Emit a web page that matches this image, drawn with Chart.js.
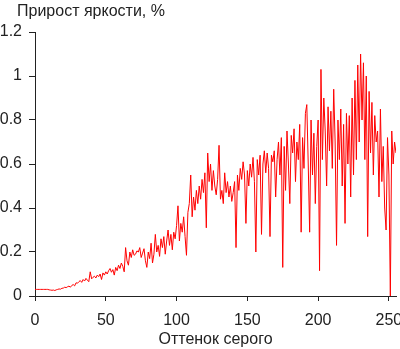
<!DOCTYPE html>
<html>
<head>
<meta charset="utf-8">
<script src="https://cdn.jsdelivr.net/npm/chart.js@4.4.1/dist/chart.umd.min.js"></script>
<style>
  html, body { margin: 0; padding: 0; background: #fff; }
  #wrap { width: 400px; height: 349px; }
</style>
</head>
<body>
<div id="wrap"><canvas id="gain"></canvas></div>
<script>
const chartTitle = 'Прирост яркости, %';
const xTitle = 'Оттенок серого';
const xTicks = [0, 50, 100, 150, 200, 250];
const yTicks = [0, 0.2, 0.4, 0.6, 0.8, 1, 1.2];

// brightness gain per grey level 0..255
const gain = [
  0.03,0.03,0.03,0.03,0.03,0.03,0.03,0.03,0.03,0.03,
  0.028,0.027,0.026,0.027,0.025,0.028,0.03,0.032,0.031,0.035,
  0.036,0.04,0.038,0.042,0.045,0.04,0.048,0.052,0.046,0.06,
  0.058,0.065,0.07,0.062,0.075,0.068,0.08,0.072,0.065,0.11,
  0.078,0.085,0.09,0.082,0.095,0.088,0.1,0.075,0.105,0.095,
  0.11,0.1,0.115,0.125,0.108,0.12,0.095,0.13,0.115,0.14,
  0.125,0.15,0.135,0.11,0.22,0.16,0.14,0.2,0.175,0.21,
  0.185,0.19,0.205,0.2,0.22,0.175,0.195,0.215,0.16,0.13,
  0.2,0.17,0.24,0.15,0.19,0.28,0.2,0.23,0.18,0.26,
  0.22,0.27,0.19,0.25,0.3,0.23,0.28,0.21,0.29,0.26,
  0.32,0.41,0.25,0.33,0.29,0.36,0.27,0.185,0.38,0.42,
  0.55,0.36,0.45,0.39,0.48,0.42,0.5,0.44,0.53,0.47,
  0.56,0.31,0.65,0.52,0.6,0.48,0.57,0.5,0.46,0.53,
  0.685,0.44,0.48,0.42,0.56,0.47,0.52,0.45,0.5,0.43,
  0.47,0.52,0.22,0.55,0.48,0.58,0.53,0.61,0.55,0.33,
  0.57,0.5,0.6,0.54,0.63,0.52,0.2,0.62,0.55,0.64,
  0.28,0.6,0.66,0.56,0.65,0.58,0.27,0.64,0.61,0.66,
  0.45,0.62,0.7,0.55,0.72,0.13,0.68,0.48,0.75,0.6,
  0.42,0.73,0.65,0.76,0.52,0.7,0.62,0.78,0.29,0.72,
  0.58,0.83,0.87,0.6,0.29,0.8,0.55,0.74,0.42,0.68,
  0.8,0.115,1.03,0.62,0.9,0.75,0.5,0.86,0.66,0.84,
  0.58,0.94,0.7,0.23,0.8,0.62,0.85,0.5,0.78,0.33,
  0.83,0.6,0.82,0.45,0.9,0.55,0.98,0.62,1.05,0.7,
  1.1,0.8,1.06,0.62,1.0,0.27,0.93,0.65,0.88,0.55,
  0.82,0.7,0.75,0.45,0.85,0.52,0.68,0.4,0.3,0.72,
  0.55,0.0,0.75,0.6,0.7,0.65
];

const font = { family: '"Liberation Sans", Arial, sans-serif', size: 16 };
const ink = '#222';

// title drawn in the top-left corner of the canvas
const cornerTitle = {
  id: 'cornerTitle',
  afterDraw(chart) {
    const c = chart.ctx;
    c.save();
    c.font = '16px "Liberation Sans", Arial, sans-serif';
    c.fillStyle = ink;
    c.textBaseline = 'middle';
    c.fillText(chartTitle, 17, 12);
    c.restore();
  }
};

new Chart(document.getElementById('gain'), {
  type: 'line',
  data: {
    datasets: [{
      data: gain.map((v, i) => ({ x: i, y: v })),
      borderColor: 'rgb(255,0,0)',
      borderWidth: 1,
      pointRadius: 0,
      tension: 0
    }]
  },
  options: {
    responsive: true,
    maintainAspectRatio: false,
    animation: false,
    layout: { padding: { top: 32, right: 4, left: 0, bottom: 0 } },
    plugins: { legend: { display: false }, tooltip: { enabled: false } },
    scales: {
      x: {
        type: 'linear',
        min: 0,
        max: 255,
        afterBuildTicks: s => { s.ticks = xTicks.map(v => ({ value: v })); },
        // fixed height, and let the "250" label hang past the right edge
        afterFit: s => { s.height = 53; s.paddingRight = 0; s.paddingLeft = 0; },
        grid: { drawOnChartArea: false, drawTicks: true, tickLength: 5, tickColor: ink },
        border: { color: ink },
        ticks: { color: ink, font: font, padding: 10, maxRotation: 0 },
        title: { display: true, text: xTitle, color: ink, font: font, padding: 0 }
      },
      y: {
        min: 0,
        max: 1.2,
        afterBuildTicks: s => { s.ticks = yTicks.map(v => ({ value: v })); },
        afterFit: s => { s.width = 35; },
        grid: { drawOnChartArea: false, drawTicks: true, tickLength: 6, tickColor: ink },
        border: { color: ink },
        ticks: { color: ink, font: font, padding: 7, callback: v => String(v) }
      }
    }
  },
  plugins: [cornerTitle]
});
</script>
</body>
</html>
